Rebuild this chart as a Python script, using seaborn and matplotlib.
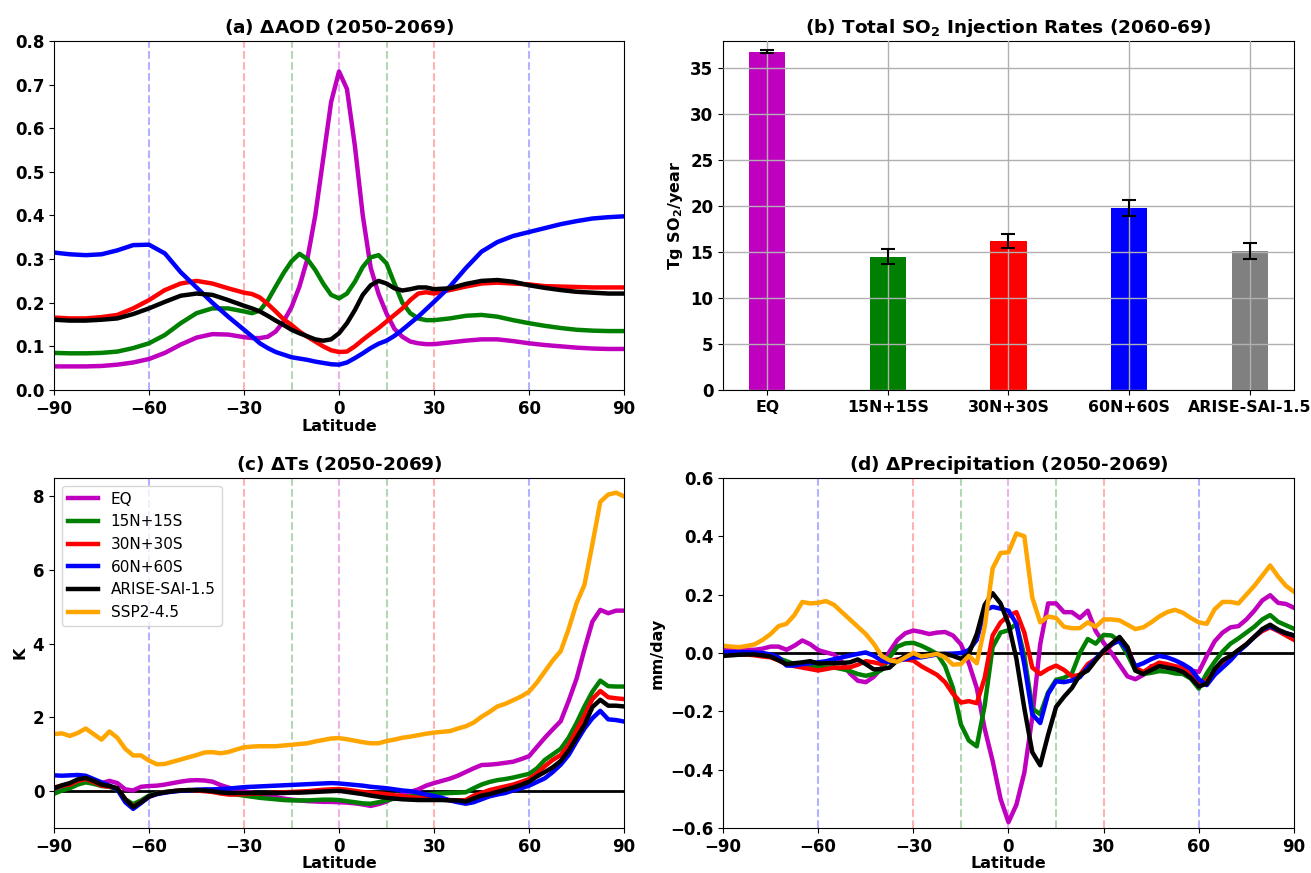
import numpy as np
import pandas as pd
import matplotlib
matplotlib.use("Agg")
import matplotlib.pyplot as plt
import seaborn as sns

# ---------------- data ----------------
experiments = ["EQ", "15N+15S", "30N+30S", "60N+60S", "ARISE-SAI-1.5", "SSP2-4.5"]
colors = {"EQ": "#bf00bf", "15N+15S": "#008000", "30N+30S": "#ff0000",
          "60N+60S": "#0000ff", "ARISE-SAI-1.5": "#000000", "SSP2-4.5": "#ffa500"}

# (a) AOD latitude grid
lat_a = ([-90, -85, -80, -75, -70, -65, -60, -55, -50, -45, -40, -35, -30]
         + [-27.5, -25, -22.5, -20, -17.5, -15, -12.5, -10, -7.5, -5, -2.5, 0,
            2.5, 5, 7.5, 10, 12.5, 15, 17.5, 20, 22.5, 25, 27.5]
         + [30, 35, 40, 45, 50, 55, 60, 65, 70, 75, 80, 85, 90])
aod_eq = [0.054, 0.054, 0.054, 0.055, 0.058, 0.063, 0.071, 0.085, 0.104, 0.120, 0.128, 0.127, 0.121,
          0.119, 0.119, 0.122, 0.134, 0.157, 0.19, 0.237, 0.30, 0.40, 0.53, 0.66, 0.73,
          0.69, 0.56, 0.40, 0.28, 0.22, 0.175, 0.14, 0.122, 0.111, 0.107, 0.105,
          0.105, 0.109, 0.113, 0.116, 0.116, 0.112, 0.107, 0.103, 0.100, 0.097, 0.095, 0.094, 0.094]
aod_15 = [0.085, 0.084, 0.084, 0.085, 0.088, 0.096, 0.107, 0.126, 0.153, 0.176, 0.187, 0.187, 0.180,
          0.176, 0.182, 0.205, 0.237, 0.268, 0.295, 0.312, 0.300, 0.275, 0.244, 0.218, 0.21,
          0.221, 0.248, 0.282, 0.304, 0.309, 0.29, 0.244, 0.20, 0.176, 0.164, 0.16,
          0.16, 0.164, 0.170, 0.172, 0.168, 0.16, 0.153, 0.147, 0.142, 0.138, 0.136, 0.135, 0.135]
aod_30 = [0.166, 0.164, 0.164, 0.167, 0.172, 0.187, 0.206, 0.229, 0.244, 0.25, 0.244, 0.233, 0.223,
          0.22, 0.212, 0.197, 0.18, 0.162, 0.149, 0.134, 0.122, 0.111, 0.10, 0.091, 0.087,
          0.088, 0.10, 0.115, 0.129, 0.142, 0.157, 0.172, 0.187, 0.206, 0.221, 0.224,
          0.221, 0.229, 0.237, 0.244, 0.246, 0.244, 0.242, 0.238, 0.237, 0.236, 0.235, 0.235, 0.235]
aod_60 = [0.315, 0.311, 0.309, 0.311, 0.32, 0.332, 0.333, 0.313, 0.27, 0.235, 0.200, 0.168, 0.138,
          0.123, 0.107, 0.096, 0.087, 0.081, 0.075, 0.072, 0.069, 0.065, 0.062, 0.059, 0.058,
          0.063, 0.073, 0.084, 0.096, 0.106, 0.113, 0.124, 0.138, 0.153, 0.168, 0.185,
          0.202, 0.237, 0.279, 0.317, 0.339, 0.353, 0.362, 0.371, 0.380, 0.387, 0.393, 0.396, 0.398]
aod_arise = [0.161, 0.159, 0.159, 0.161, 0.164, 0.174, 0.187, 0.202, 0.216, 0.221, 0.218, 0.206, 0.193,
             0.187, 0.18, 0.17, 0.159, 0.149, 0.138, 0.130, 0.123, 0.116, 0.113, 0.116, 0.130,
             0.153, 0.183, 0.218, 0.24, 0.25, 0.244, 0.233, 0.228, 0.231, 0.235, 0.235,
             0.231, 0.233, 0.243, 0.25, 0.252, 0.248, 0.24, 0.234, 0.229, 0.225, 0.223, 0.221, 0.221]

# (b) injection rates
bar_cats = ["EQ", "15N+15S", "30N+30S", "60N+60S", "ARISE-SAI-1.5"]
bar_vals = [36.85, 14.5, 16.2, 19.8, 15.1]
bar_errs = [0.2, 0.8, 0.75, 0.9, 0.85]
bar_colors = ["#bf00bf", "#008000", "#ff0000", "#0000ff", "#808080"]

# (c),(d) latitude grid (2.5 degree)
lat_cd = np.arange(-90, 90.01, 2.5)
ts_eq = [0.02, 0.12, 0.20, 0.28, 0.30, 0.25, 0.22, 0.28, 0.22,
         0.05, 0.02, 0.12, 0.14, 0.15, 0.18, 0.22, 0.26,
         0.29, 0.30, 0.29, 0.26, 0.17, 0.10, 0.04, 0.00,
         -0.04, -0.08, -0.12, -0.16, -0.20, -0.23, -0.25, -0.27,
         -0.28, -0.29, -0.29, -0.30, -0.31, -0.33, -0.36, -0.40,
         -0.35, -0.28, -0.16, -0.08, -0.02, 0.05, 0.15, 0.22,
         0.28, 0.34, 0.42, 0.52, 0.62, 0.71, 0.72, 0.74,
         0.77, 0.80, 0.87, 0.95, 1.20, 1.45, 1.68, 1.90,
         2.45, 3.05, 3.85, 4.60, 4.92, 4.83, 4.90, 4.90]
ts_15 = [-0.07, 0.02, 0.08, 0.18, 0.24, 0.20, 0.14, 0.12, 0.05,
         -0.22, -0.35, -0.25, -0.12, -0.06, -0.02, 0.00, 0.02,
         0.03, 0.03, 0.02, 0.00, -0.05, -0.07, -0.09, -0.12,
         -0.15, -0.18, -0.20, -0.22, -0.24, -0.25, -0.25, -0.25,
         -0.24, -0.23, -0.23, -0.24, -0.27, -0.30, -0.33, -0.34,
         -0.30, -0.25, -0.20, -0.16, -0.14, -0.12, -0.09, -0.07,
         -0.06, -0.05, -0.04, -0.03, 0.08, 0.18, 0.25, 0.30,
         0.33, 0.37, 0.42, 0.47, 0.62, 0.85, 1.00, 1.15,
         1.45, 1.85, 2.30, 2.70, 3.00, 2.85, 2.84, 2.84]
ts_30 = [0.10, 0.15, 0.18, 0.28, 0.33, 0.25, 0.15, 0.12, 0.08,
         -0.22, -0.42, -0.30, -0.15, -0.07, -0.03, 0.00, 0.02,
         0.03, 0.02, 0.00, -0.02, -0.06, -0.09, -0.09, -0.08,
         -0.07, -0.06, -0.05, -0.04, -0.03, -0.02, -0.01, 0.00,
         0.02, 0.04, 0.05, 0.06, 0.04, 0.01, -0.02, -0.04,
         -0.06, -0.08, -0.11, -0.14, -0.16, -0.18, -0.20, -0.22,
         -0.23, -0.24, -0.25, -0.24, -0.12, -0.05, 0.03, 0.08,
         0.13, 0.18, 0.25, 0.33, 0.48, 0.68, 0.85, 0.98,
         1.25, 1.65, 2.05, 2.50, 2.72, 2.55, 2.52, 2.50]
ts_60 = [0.43, 0.42, 0.43, 0.44, 0.42, 0.33, 0.24, 0.15, 0.05,
         -0.30, -0.48, -0.32, -0.15, -0.08, -0.04, -0.01, 0.01,
         0.02, 0.04, 0.05, 0.05, 0.06, 0.07, 0.09, 0.11,
         0.12, 0.13, 0.14, 0.15, 0.16, 0.17, 0.18, 0.19,
         0.20, 0.21, 0.22, 0.21, 0.19, 0.17, 0.15, 0.12,
         0.10, 0.08, 0.05, 0.02, 0.00, -0.04, -0.09, -0.13,
         -0.18, -0.25, -0.30, -0.34, -0.30, -0.22, -0.14, -0.09,
         -0.05, 0.02, 0.08, 0.15, 0.25, 0.35, 0.52, 0.72,
         0.98, 1.35, 1.70, 1.98, 2.18, 1.95, 1.93, 1.89]
ts_arise = [0.08, 0.16, 0.22, 0.32, 0.36, 0.28, 0.18, 0.14, 0.08,
            -0.22, -0.43, -0.30, -0.14, -0.07, -0.03, 0.00, 0.02,
            0.03, 0.03, 0.02, 0.00, -0.03, -0.05, -0.05, -0.05,
            -0.05, -0.05, -0.05, -0.05, -0.05, -0.04, -0.04, -0.03,
            -0.02, -0.01, 0.00, 0.01, -0.02, -0.05, -0.08, -0.12,
            -0.15, -0.18, -0.20, -0.22, -0.23, -0.24, -0.24, -0.24,
            -0.24, -0.25, -0.25, -0.28, -0.20, -0.12, -0.08, -0.02,
            0.04, 0.10, 0.17, 0.26, 0.40, 0.52, 0.65, 0.82,
            1.10, 1.45, 1.80, 2.28, 2.48, 2.32, 2.32, 2.30]
ts_ssp = [1.55, 1.57, 1.50, 1.58, 1.70, 1.55, 1.40, 1.62, 1.45,
          1.15, 0.97, 0.97, 0.83, 0.73, 0.74, 0.80, 0.86,
          0.92, 0.98, 1.05, 1.06, 1.03, 1.06, 1.13, 1.19,
          1.21, 1.22, 1.22, 1.22, 1.24, 1.26, 1.28, 1.30,
          1.35, 1.39, 1.43, 1.44, 1.41, 1.37, 1.33, 1.30,
          1.30, 1.36, 1.40, 1.45, 1.48, 1.52, 1.56, 1.59,
          1.61, 1.63, 1.70, 1.76, 1.86, 2.02, 2.15, 2.30,
          2.37, 2.47, 2.57, 2.70, 2.95, 3.25, 3.55, 3.80,
          4.40, 5.10, 5.60, 6.70, 7.85, 8.05, 8.10, 8.00]

pr_eq = [0.017, 0.015, 0.012, 0.011, 0.011, 0.015, 0.022, 0.022, 0.011,
         0.025, 0.043, 0.030, 0.010, 0.002, -0.005, -0.030, -0.070,
         -0.095, -0.100, -0.082, -0.050, 0.005, 0.045, 0.068, 0.077,
         0.072, 0.065, 0.070, 0.072, 0.060, 0.030, -0.035, -0.12,
         -0.26, -0.37, -0.50, -0.58, -0.52, -0.41, -0.22, 0.03,
         0.17, 0.17, 0.14, 0.14, 0.12, 0.145, 0.075, 0.035,
         0.00, -0.04, -0.08, -0.09, -0.075, -0.045, -0.045, -0.048,
         -0.055, -0.060, -0.060, -0.065, -0.01, 0.04, 0.07, 0.088,
         0.092, 0.115, 0.145, 0.18, 0.198, 0.172, 0.168, 0.155]
pr_15 = [-0.005, -0.005, -0.005, -0.005, -0.006, -0.008, -0.010, -0.018, -0.028,
         -0.038, -0.043, -0.046, -0.049, -0.050, -0.050, -0.055, -0.062,
         -0.072, -0.078, -0.072, -0.058, -0.015, 0.022, 0.033, 0.035,
         0.025, 0.012, -0.003, -0.045, -0.12, -0.245, -0.30, -0.32,
         -0.18, 0.02, 0.07, 0.078, 0.10, -0.01, -0.19, -0.21,
         -0.135, -0.092, -0.085, -0.07, 0.0, 0.048, 0.032, 0.062,
         0.060, 0.04, -0.005, -0.060, -0.072, -0.068, -0.062, -0.064,
         -0.070, -0.072, -0.088, -0.122, -0.07, -0.03, 0.005, 0.032,
         0.050, 0.070, 0.090, 0.115, 0.130, 0.107, 0.095, 0.083]
pr_30 = [-0.005, -0.005, -0.005, -0.005, -0.008, -0.012, -0.015, -0.025, -0.040,
         -0.045, -0.050, -0.055, -0.060, -0.055, -0.050, -0.050, -0.049,
         -0.040, -0.028, -0.032, -0.038, -0.028, -0.022, -0.022, -0.026,
         -0.045, -0.060, -0.075, -0.10, -0.14, -0.17, -0.165, -0.172,
         -0.085, 0.06, 0.105, 0.128, 0.14, 0.07, -0.05, -0.072,
         -0.055, -0.043, -0.058, -0.080, -0.075, -0.038, -0.020, 0.003,
         0.028, 0.048, 0.020, -0.050, -0.065, -0.048, -0.033, -0.038,
         -0.045, -0.050, -0.068, -0.105, -0.095, -0.060, -0.030, -0.015,
         0.010, 0.030, 0.055, 0.075, 0.088, 0.075, 0.060, 0.045]
pr_60 = [0.003, 0.003, 0.003, 0.003, 0.002, 0.000, -0.005, -0.015, -0.043,
         -0.043, -0.038, -0.035, -0.032, -0.028, -0.021, -0.015, -0.009,
         -0.003, 0.002, -0.009, -0.026, -0.032, -0.026, -0.021, -0.015,
         -0.015, -0.010, -0.005, -0.003, -0.002, 0.0, 0.01, 0.045,
         0.147, 0.158, 0.152, 0.145, 0.10, -0.04, -0.21, -0.24,
         -0.14, -0.097, -0.10, -0.094, -0.083, -0.049, -0.020, 0.008,
         0.030, 0.042, 0.010, -0.045, -0.035, -0.021, -0.010, -0.015,
         -0.025, -0.038, -0.055, -0.090, -0.110, -0.075, -0.050, -0.025,
         0.005, 0.028, 0.055, 0.080, 0.092, 0.078, 0.068, 0.060]
pr_arise = [-0.010, -0.008, -0.006, -0.005, -0.005, -0.008, -0.012, -0.025, -0.038,
            -0.035, -0.032, -0.028, -0.036, -0.035, -0.035, -0.034, -0.032,
            -0.022, -0.038, -0.056, -0.055, -0.050, -0.025, -0.010, -0.003,
            -0.005, -0.003, -0.003, -0.003, -0.010, -0.020, -0.002, 0.065,
            0.165, 0.205, 0.17, 0.10, -0.02, -0.19, -0.34, -0.385,
            -0.28, -0.185, -0.15, -0.12, -0.075, -0.060, -0.025, 0.008,
            0.032, 0.055, 0.020, -0.060, -0.072, -0.058, -0.045, -0.050,
            -0.055, -0.065, -0.085, -0.115, -0.105, -0.055, -0.025, -0.010,
            0.010, 0.030, 0.055, 0.082, 0.097, 0.080, 0.068, 0.060]
pr_ssp = [0.025, 0.022, 0.020, 0.024, 0.030, 0.045, 0.065, 0.092, 0.10,
          0.13, 0.175, 0.170, 0.172, 0.178, 0.165, 0.140, 0.115,
          0.090, 0.065, 0.032, -0.01, -0.025, -0.030, -0.015, 0.0,
          -0.012, -0.008, -0.003, -0.015, -0.040, -0.038, -0.01, -0.035,
          0.09, 0.29, 0.343, 0.345, 0.41, 0.40, 0.19, 0.105,
          0.125, 0.12, 0.09, 0.085, 0.085, 0.105, 0.09, 0.115,
          0.115, 0.112, 0.097, 0.082, 0.088, 0.105, 0.125, 0.14,
          0.148, 0.138, 0.12, 0.105, 0.10, 0.15, 0.175, 0.175,
          0.17, 0.20, 0.23, 0.265, 0.30, 0.262, 0.23, 0.21]

xticks_lat = [-90, -60, -30, 0, 30, 60, 90]
guide_lats = [(-60, "#0000ff"), (60, "#0000ff"), (-30, "#ff0000"), (30, "#ff0000"),
              (-15, "#008000"), (15, "#008000"), (0, "#bf00bf")]


def long_df(lat, series):
    frames = [pd.DataFrame({"lat": lat, "val": vals, "exp": name}) for name, vals in series]
    return pd.concat(frames, ignore_index=True)


# ---------------- style ----------------
plt.rcParams.update({
    "font.family": ["DejaVu Sans"],
    "font.weight": "bold",
    "axes.labelweight": "bold",
    "axes.titleweight": "bold",
    "xtick.labelsize": 12,
    "ytick.labelsize": 12,
    "axes.titlesize": 13.3,
    "axes.labelsize": 11.5,
})

fig = plt.figure(figsize=(13.11, 8.73), dpi=100)
ax_a = fig.add_axes([0.0412, 0.5533, 0.4348, 0.3998])
ax_b = fig.add_axes([0.5515, 0.5533, 0.4355, 0.3998])
ax_c = fig.add_axes([0.0412, 0.0515, 0.4348, 0.4010])
ax_d = fig.add_axes([0.5515, 0.0515, 0.4355, 0.4010])


def guides(ax):
    for x, c in guide_lats:
        ax.axvline(x, color=c, alpha=0.3, lw=1.5, ls="--", zorder=1)


# (a)
guides(ax_a)
df_a = long_df(lat_a, [("EQ", aod_eq), ("15N+15S", aod_15), ("30N+30S", aod_30),
                       ("60N+60S", aod_60), ("ARISE-SAI-1.5", aod_arise)])
sns.lineplot(data=df_a, x="lat", y="val", hue="exp", hue_order=experiments[:5],
             palette=colors, lw=3.2, ax=ax_a, legend=False)
ax_a.set_xlim(-90, 90)
ax_a.set_ylim(0, 0.8)
ax_a.set_xticks(xticks_lat)
ax_a.set_yticks(np.arange(0, 0.81, 0.1))
ax_a.set_yticklabels([f"{v:.1f}" for v in np.arange(0, 0.81, 0.1)])
ax_a.set_xlabel("Latitude", labelpad=1)
ax_a.set_ylabel("")
ax_a.set_title("(a) $\\Delta$AOD (2050-2069)")

# (b)
sns.barplot(x=bar_cats, y=bar_vals, hue=bar_cats, palette=bar_colors, width=0.3,
            saturation=1, legend=False, ax=ax_b)
ax_b.errorbar(x=np.arange(len(bar_cats)), y=bar_vals, yerr=bar_errs, fmt="none",
              ecolor="k", elinewidth=1.5, capsize=5, capthick=1.5, zorder=5)
ax_b.set_axisbelow(False)
ax_b.grid(True, color="#b0b0b0", lw=1)
ax_b.set_ylim(0, 38)
ax_b.set_yticks(range(0, 36, 5))
ax_b.tick_params(axis="x", labelsize=11.3)
ax_b.set_ylabel("Tg SO$_2$/year")
ax_b.set_xlabel("")
ax_b.set_title("(b) Total SO$_2$ Injection Rates (2060-69)")

# (c)
guides(ax_c)
ax_c.axhline(0, color="k", lw=2, zorder=1.5)
df_c = long_df(lat_cd, [("EQ", ts_eq), ("15N+15S", ts_15), ("30N+30S", ts_30),
                        ("60N+60S", ts_60), ("ARISE-SAI-1.5", ts_arise), ("SSP2-4.5", ts_ssp)])
sns.lineplot(data=df_c, x="lat", y="val", hue="exp", hue_order=experiments,
             palette=colors, lw=3.2, ax=ax_c)
ax_c.legend(loc="upper left", prop={"weight": "normal", "size": 11})
ax_c.set_xlim(-90, 90)
ax_c.set_ylim(-1, 8.5)
ax_c.set_xticks(xticks_lat)
ax_c.set_yticks([0, 2, 4, 6, 8])
ax_c.set_xlabel("Latitude", labelpad=0)
ax_c.set_ylabel("K")
ax_c.set_title("(c) $\\Delta$Ts (2050-2069)")

# (d)
guides(ax_d)
ax_d.axhline(0, color="k", lw=2, zorder=1.5)
df_d = long_df(lat_cd, [("EQ", pr_eq), ("15N+15S", pr_15), ("30N+30S", pr_30),
                        ("60N+60S", pr_60), ("ARISE-SAI-1.5", pr_arise), ("SSP2-4.5", pr_ssp)])
sns.lineplot(data=df_d, x="lat", y="val", hue="exp", hue_order=experiments,
             palette=colors, lw=3.2, ax=ax_d, legend=False)
ax_d.set_xlim(-90, 90)
ax_d.set_ylim(-0.6, 0.6)
ax_d.set_xticks(xticks_lat)
d_ticks = np.round(np.arange(-0.6, 0.61, 0.2), 1)
ax_d.set_yticks(d_ticks)
ax_d.set_yticklabels(["0.0" if abs(v) < 1e-9 else f"{v:.1f}".replace("-", "\u2212") for v in d_ticks])
ax_d.set_xlabel("Latitude", labelpad=0)
ax_d.set_ylabel("mm/day")
ax_d.set_title("(d) $\\Delta$Precipitation (2050-2069)")

fig.savefig("out.png", dpi=100)
